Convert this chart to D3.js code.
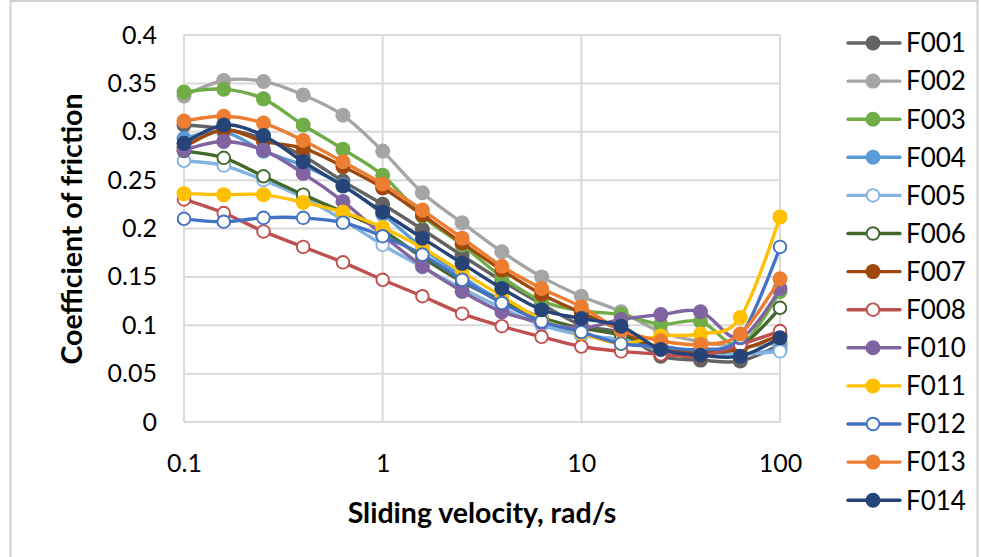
<!DOCTYPE html>
<html>
<head>
<meta charset="utf-8">
<script src="https://cdn.jsdelivr.net/npm/d3@7"></script>
<style>
  html, body { margin: 0; padding: 0; background: #fff; }
  svg { display: block; font-family: "Lato", "Open Sans", sans-serif; }
</style>
</head>
<body>
<svg id="chart" width="981" height="557"></svg>
<script>
// Sliding velocities (rad/s), five steps per decade
const velocity = [0.1, 0.1585, 0.2512, 0.3981, 0.631, 1, 1.585, 2.512, 3.981, 6.31, 10, 15.85, 25.12, 39.81, 63.1, 100];

const seriesNames = ["F001", "F002", "F003", "F004", "F005", "F006", "F007", "F008", "F010", "F011", "F012", "F013", "F014"];

const F001 = [0.307, 0.303, 0.293, 0.275, 0.249, 0.225, 0.199, 0.172, 0.146, 0.122, 0.100, 0.092, 0.068, 0.064, 0.063, 0.080];
const F002 = [0.337, 0.353, 0.352, 0.338, 0.317, 0.280, 0.237, 0.206, 0.176, 0.150, 0.130, 0.114, 0.093, 0.083, 0.078, 0.082];
const F003 = [0.341, 0.344, 0.334, 0.307, 0.282, 0.255, 0.213, 0.183, 0.150, 0.125, 0.115, 0.111, 0.101, 0.104, 0.080, 0.135];
const F004 = [0.293, 0.300, 0.280, 0.265, 0.245, 0.215, 0.180, 0.150, 0.125, 0.105, 0.090, 0.085, 0.075, 0.072, 0.070, 0.075];
const F005 = [0.270, 0.265, 0.250, 0.232, 0.209, 0.183, 0.160, 0.138, 0.118, 0.100, 0.090, 0.085, 0.075, 0.072, 0.070, 0.073];
const F006 = [0.280, 0.273, 0.254, 0.235, 0.217, 0.198, 0.170, 0.145, 0.125, 0.108, 0.097, 0.090, 0.075, 0.072, 0.078, 0.118];
const F007 = [0.284, 0.302, 0.290, 0.283, 0.264, 0.242, 0.214, 0.185, 0.157, 0.132, 0.113, 0.095, 0.075, 0.072, 0.075, 0.090];
const F008 = [0.230, 0.216, 0.197, 0.181, 0.165, 0.147, 0.130, 0.112, 0.099, 0.088, 0.078, 0.073, 0.070, 0.068, 0.080, 0.094];
const F010 = [0.281, 0.290, 0.281, 0.257, 0.228, 0.193, 0.161, 0.135, 0.114, 0.103, 0.097, 0.106, 0.111, 0.114, 0.087, 0.138];
const F011 = [0.236, 0.235, 0.235, 0.227, 0.217, 0.201, 0.180, 0.155, 0.130, 0.106, 0.092, 0.081, 0.089, 0.091, 0.108, 0.212];
const F012 = [0.210, 0.207, 0.211, 0.211, 0.206, 0.192, 0.173, 0.147, 0.123, 0.104, 0.093, 0.081, 0.078, 0.075, 0.088, 0.181];
const F013 = [0.311, 0.316, 0.309, 0.291, 0.269, 0.246, 0.219, 0.190, 0.161, 0.138, 0.119, 0.095, 0.084, 0.080, 0.091, 0.148];
const F014 = [0.288, 0.307, 0.296, 0.269, 0.244, 0.217, 0.190, 0.164, 0.138, 0.116, 0.107, 0.099, 0.075, 0.069, 0.068, 0.087];

const seriesValues = [F001, F002, F003, F004, F005, F006, F007, F008, F010, F011, F012, F013, F014];
const seriesColors = ["#636363", "#A5A5A5", "#70AD47", "#5B9BD5", "#82B4E2", "#43682B", "#9E480E", "#C0504D", "#8064A2", "#FFC000", "#4472C4", "#ED7D31", "#264478"];
const hollowMarker = [false, false, false, false, true, true, false, true, false, false, true, false, false];

const yTicks = [0, 0.05, 0.1, 0.15, 0.2, 0.25, 0.3, 0.35, 0.4];
const yTickLabels = ["0", "0.05", "0.1", "0.15", "0.2", "0.25", "0.3", "0.35", "0.4"];
const xTicks = [0.1, 1, 10, 100];
const xTickLabels = ["0.1", "1", "10", "100"];

const svg = d3.select("#chart");
const W = 981, H = 557;
const plot = { left: 184, right: 780, top: 35, bottom: 422 };

// chart frame
svg.append("rect")
  .attr("x", 10.5).attr("y", 1).attr("width", 967).attr("height", H + 5)
  .attr("fill", "#fff").attr("stroke", "#d0d0d0").attr("stroke-width", 2);

const x = d3.scaleLog().domain([0.1, 100]).range([plot.left, plot.right]);
const y = d3.scaleLinear().domain([0, 0.4]).range([plot.bottom, plot.top]);

// gridlines
const grid = svg.append("g");
grid.selectAll("line.h").data(yTicks).join("line")
  .attr("x1", plot.left).attr("x2", plot.right)
  .attr("y1", d => y(d)).attr("y2", d => y(d))
  .attr("stroke", "#d9d9d9").attr("stroke-width", 2);
grid.selectAll("line.v").data(xTicks).join("line")
  .attr("y1", plot.top).attr("y2", plot.bottom)
  .attr("x1", d => x(d)).attr("x2", d => x(d))
  .attr("stroke", "#d9d9d9").attr("stroke-width", 2);

// axes (labels only, Excel style)
const yAxis = d3.axisLeft(y).tickValues(yTicks).tickFormat((d, i) => yTickLabels[i]).tickSize(0).tickPadding(27);
const gy = svg.append("g").attr("transform", `translate(${plot.left},0)`).call(yAxis);
gy.select(".domain").remove();
gy.selectAll("text").attr("font-size", 25).attr("fill", "#000").attr("font-family", "Lato, sans-serif");

const xAxis = d3.axisBottom(x).tickValues(xTicks).tickFormat((d, i) => xTickLabels[i]).tickSize(0).tickPadding(32);
const gx = svg.append("g").attr("transform", `translate(0,${plot.bottom})`).call(xAxis);
gx.select(".domain").remove();
gx.selectAll("text").attr("font-size", 25).attr("fill", "#000").attr("font-family", "Lato, sans-serif");

// axis titles
svg.append("text")
  .attr("x", 482).attr("y", 523)
  .attr("text-anchor", "middle").attr("font-size", 28.5).attr("font-weight", "bold")
  .text("Sliding velocity, rad/s");
svg.append("text")
  .attr("transform", `translate(82,229) rotate(-90)`)
  .attr("text-anchor", "middle").attr("font-size", 28.5).attr("font-weight", "bold")
  .text("Coefficient of friction");

// series: smoothed line, then markers, drawn one series at a time
const line = d3.line()
  .x((d, i) => x(velocity[i]))
  .y(d => y(d))
  .curve(d3.curveCardinal.tension(0));

const seriesG = svg.append("g");
seriesValues.forEach((vals, s) => {
  const g = seriesG.append("g");
  g.append("path").datum(vals)
    .attr("d", line).attr("fill", "none")
    .attr("stroke", seriesColors[s]).attr("stroke-width", 3.4)
    .attr("stroke-linejoin", "round").attr("stroke-linecap", "round");
  g.selectAll("circle").data(vals).join("circle")
    .attr("cx", (d, i) => x(velocity[i])).attr("cy", d => y(d))
    .attr("r", hollowMarker[s] ? 6.3 : 7.5)
    .attr("fill", hollowMarker[s] ? "#fff" : seriesColors[s])
    .attr("stroke", seriesColors[s]).attr("stroke-width", hollowMarker[s] ? 1.9 : 0);
});

// legend
const legend = svg.append("g");
seriesNames.forEach((name, s) => {
  const ly = 43 + s * 38.1;
  const lg = legend.append("g").attr("transform", `translate(0,${ly})`);
  lg.append("line").attr("x1", 848).attr("x2", 900).attr("y1", 0).attr("y2", 0)
    .attr("stroke", seriesColors[s]).attr("stroke-width", 3.4).attr("stroke-linecap", "round");
  lg.append("circle").attr("cx", 873).attr("cy", 0)
    .attr("r", hollowMarker[s] ? 6.3 : 7.5)
    .attr("fill", hollowMarker[s] ? "#fff" : seriesColors[s])
    .attr("stroke", seriesColors[s]).attr("stroke-width", hollowMarker[s] ? 1.9 : 0);
  lg.append("text").attr("x", 906).attr("y", 0).attr("dy", "0.36em")
    .attr("font-size", 26).text(name);
});
</script>
</body>
</html>
